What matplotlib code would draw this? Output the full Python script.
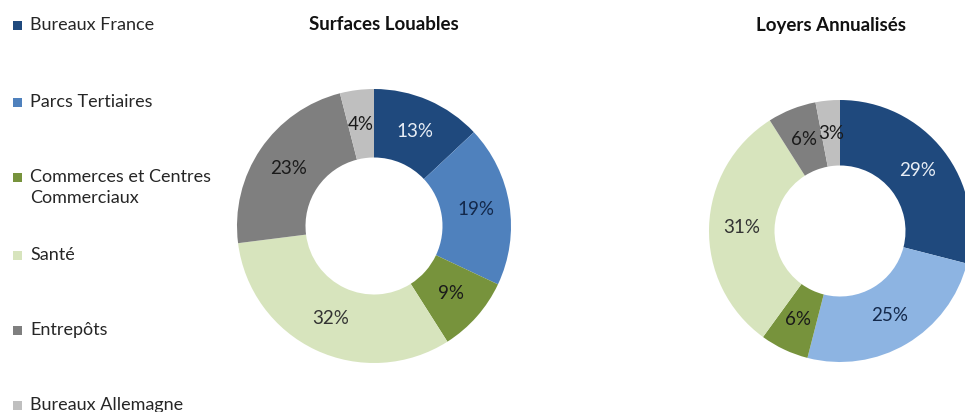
import matplotlib
matplotlib.use("Agg")
import matplotlib.pyplot as plt
from matplotlib.patches import Rectangle

plt.rcParams['font.family'] = ['Lato', 'DejaVu Sans']

categories = ["Bureaux France", "Parcs Tertiaires", "Commerces et Centres\nCommerciaux",
              "Santé", "Entrepôts", "Bureaux Allemagne"]
surfaces = [13, 19, 9, 32, 23, 4]
loyers = [29, 25, 6, 31, 6, 3]
titles = ["Surfaces Louables", "Loyers Annualisés"]

colors_surf = ["#1F497D", "#4F81BD", "#77933C", "#D7E4BD", "#7F7F7F", "#BFBFBF"]
colors_loy = ["#1F497D", "#8DB4E2", "#77933C", "#D7E4BD", "#7F7F7F", "#BFBFBF"]
label_cols_surf = ["#E8EEF6", "#13284A", "#1A1A1A", "#333333", "#1A1A1A", "#1A1A1A"]
label_cols_loy = ["#E8EEF6", "#13284A", "#1A1A1A", "#333333", "#1A1A1A", "#1A1A1A"]

W, H = 965, 412
fig = plt.figure(figsize=(W / 100, H / 100), dpi=100)


def add_donut(cx, cy, r, values, colors, lcols, title, tx):
    ax = fig.add_axes([(cx - r) / W, (H - cy - r) / H, 2 * r / W, 2 * r / H])
    wedges, texts, autotexts = ax.pie(
        values, colors=colors, startangle=90, counterclock=False,
        wedgeprops=dict(width=0.5, edgecolor='none'),
        autopct=lambda p: f"{p:.0f}%", pctdistance=0.75,
        textprops=dict(fontsize=13.5))
    for t, c in zip(autotexts, lcols):
        t.set_color(c)
    ax.set_xlim(-1, 1)
    ax.set_ylim(-1, 1)
    ax.set_aspect('equal')
    ax.axis('off')
    fig.text(tx / W, 1 - 25 / H, title, ha='center', va='center',
             fontsize=13.5, fontweight='bold', color='#111111')


add_donut(374, 226, 137, surfaces, colors_surf, label_cols_surf, titles[0], 384)
add_donut(840, 231, 131, loyers, colors_loy, label_cols_loy, titles[1], 831)

legend_y = [25, 102, 177, 255, 330, 405]
for lab, col, y in zip(categories, colors_surf, legend_y):
    fig.patches.append(Rectangle((13 / W, 1 - (y + 4.5) / H), 9 / W, 9 / H,
                                 transform=fig.transFigure, facecolor=col,
                                 edgecolor='none'))
    if '\n' in lab:
        fig.text(30 / W, 1 - (y - 8) / H, lab, ha='left', va='top',
                 fontsize=13, color='#262626', linespacing=1.37)
    else:
        fig.text(30 / W, 1 - y / H, lab, ha='left', va='center',
                 fontsize=13, color='#262626')

fig.savefig("out.png", dpi=100, facecolor='white')
